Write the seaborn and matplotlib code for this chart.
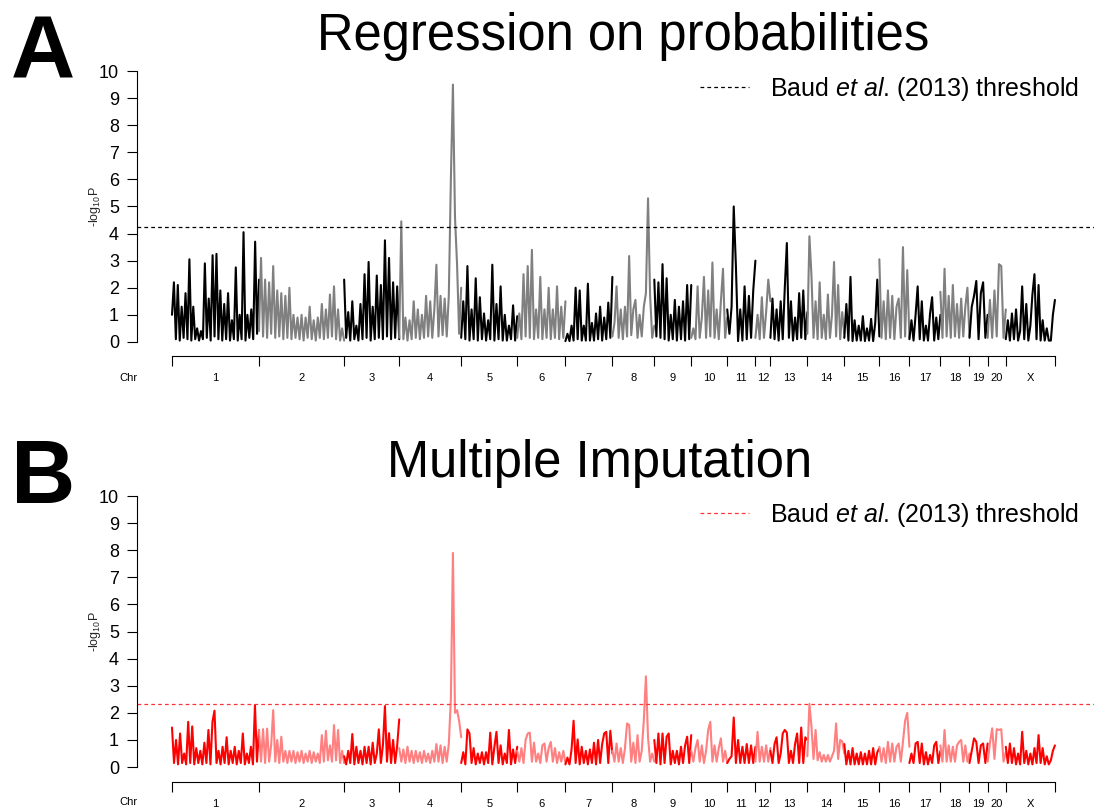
import numpy as np
import pandas as pd
import matplotlib
matplotlib.use('Agg')
import matplotlib.pyplot as plt
from matplotlib.lines import Line2D
import seaborn as sns

chroms = ['1', '2', '3', '4', '5', '6', '7', '8', '9', '10', '11', '12',
          '13', '14', '15', '16', '17', '18', '19', '20', 'X']
chrom_len = [278, 272, 176, 198, 179, 154, 150, 134, 118, 115, 90, 48,
             118, 118, 112, 96, 99, 93, 58, 58, 157]

# --- A: regression on probabilities, -log10 P along each chromosome ---
reg_1 = [1.0, 2.2, 0.1, 2.1, 0.05, 1.3, 0.15, 1.8, 0.1, 3.05, 0.05, 1.3, 0.1, 0.5, 0.05, 0.4, 0.1, 2.9, 0.15, 1.6,
         0.05, 3.2, 0.2, 3.25, 0.1, 1.9, 0.05, 1.4, 0.1, 1.8, 0.05, 0.8, 0.1, 2.75, 0.05, 1.0, 0.1, 4.05, 0.05, 1.0,
         0.15, 1.2, 0.1, 3.7, 0.3, 2.3]
reg_2 = [0.4, 3.1, 0.2, 2.3, 0.15, 2.2, 0.3, 2.8, 0.15, 1.9, 0.2, 1.8, 0.1, 1.7, 0.15, 2.0, 0.1, 1.0, 0.15, 0.9,
         0.1, 1.0, 0.05, 0.9, 0.15, 1.3, 0.1, 0.8, 0.05, 0.9, 0.15, 1.4, 0.1, 1.2, 0.15, 1.75, 0.2, 2.05, 0.1, 1.2,
         0.05, 0.5, 0.05]
reg_3 = [2.3, 0.15, 1.1, 0.05, 1.5, 0.1, 0.6, 0.05, 1.4, 0.1, 2.5, 0.15, 2.95, 0.05, 1.3, 0.1, 2.45, 0.15, 2.1, 0.1,
         3.75, 0.2, 3.1, 0.1, 2.2, 0.15, 2.05, 0.1]
reg_4 = [0.15, 4.45, 0.1, 0.9, 0.05, 0.8, 0.1, 1.5, 0.15, 1.2, 0.1, 1.0, 0.15, 1.7, 0.2, 1.5, 0.15, 1.2, 2.85, 0.2,
         1.7, 0.25, 1.6, 0.2, 1.7, 6.0, 9.5, 4.6, 2.85, 0.3, 2.0]
reg_5 = [0.15, 1.5, 0.1, 2.8, 0.05, 1.2, 0.1, 2.35, 0.05, 1.65, 0.1, 1.05, 0.05, 0.8, 0.1, 2.85, 0.05, 1.4, 0.1, 2.05,
         0.05, 1.0, 0.05, 0.6, 0.1, 1.35, 0.05, 0.95]
reg_6 = [0.15, 1.05, 0.1, 2.5, 0.2, 2.8, 0.15, 3.4, 0.1, 1.2, 0.15, 2.4, 0.1, 1.2, 0.15, 2.0, 0.1, 1.2, 0.15, 2.05,
         0.1, 1.3, 0.15, 1.5]
reg_7 = [0.03, 0.3, 0.03, 0.6, 0.05, 2.0, 0.1, 1.9, 0.05, 0.6, 0.05, 2.15, 0.05, 0.7, 0.05, 1.05, 0.1, 1.3, 0.05, 0.9,
         0.1, 1.45, 0.15, 2.4]
reg_8 = [0.2, 0.7, 2.05, 0.15, 1.2, 0.1, 1.3, 0.2, 3.17, 0.25, 1.2, 1.55, 0.15, 1.0, 0.2, 1.3, 1.8, 5.3, 1.7, 0.15,
         0.6]
reg_9 = [2.3, 0.2, 2.2, 0.15, 2.87, 0.1, 2.35, 0.05, 1.0, 0.1, 1.55, 0.05, 1.3, 0.1, 1.5, 0.05, 2.1, 0.1, 2.1]
reg_10 = [0.15, 0.5, 0.1, 2.05, 0.15, 0.9, 2.4, 0.15, 1.9, 0.2, 2.93, 0.15, 1.2, 0.1, 1.5, 2.7, 0.15, 0.9]
reg_11 = [1.2, 0.3, 1.3, 5.0, 2.8, 0.03, 1.2, 0.05, 2.05, 0.1, 1.7, 0.15, 1.9, 3.0]
reg_12 = [0.15, 1.0, 0.1, 1.65, 0.15, 1.1, 2.3, 1.5]
reg_13 = [0.15, 1.6, 0.1, 1.2, 0.05, 1.5, 0.1, 2.0, 3.65, 0.15, 1.5, 0.05, 0.9, 0.1, 1.8, 0.15, 1.9, 0.1, 1.1]
reg_14 = [0.3, 3.9, 2.45, 0.15, 1.5, 0.1, 2.2, 0.15, 1.0, 0.1, 1.75, 0.15, 1.0, 2.95, 0.2, 2.1, 0.1, 1.1, 0.3]
reg_15 = [0.15, 1.4, 0.05, 2.4, 0.03, 0.8, 0.05, 0.6, 0.05, 0.95, 0.03, 0.5, 0.05, 0.85, 0.03, 0.7, 2.3, 0.2]
reg_16 = [3.05, 0.15, 1.5, 0.1, 1.9, 0.15, 1.7, 0.1, 1.3, 1.6, 0.15, 3.5, 0.2, 2.65, 0.15]
reg_17 = [0.1, 0.8, 0.05, 1.0, 2.05, 0.1, 1.5, 0.05, 0.6, 0.05, 1.05, 1.65, 0.05, 0.9, 0.1, 1.0]
reg_18 = [1.85, 0.15, 2.7, 0.2, 1.7, 0.15, 2.1, 0.2, 1.4, 0.15, 1.6, 0.2, 1.3, 2.0, 0.2]
reg_19 = [0.15, 1.3, 1.7, 2.25, 0.1, 1.8, 2.2, 0.15, 1.0]
reg_20 = [0.15, 1.55, 0.15, 1.9, 0.2, 2.87, 2.8, 0.15, 1.2]
reg_X = [0.1, 0.8, 0.05, 1.05, 0.1, 1.2, 0.05, 0.4, 2.05, 0.1, 1.4, 0.05, 0.6, 1.75, 2.5, 0.1, 2.1, 0.05, 0.8, 0.05,
         0.5, 0.05, 0.05, 1.0, 1.55]

# --- B: multiple imputation ---
imp_1 = [1.46, 0.15, 1.0, 0.1, 1.24, 0.15, 0.5, 0.1, 1.67, 0.15, 1.5, 0.1, 0.7, 0.15, 0.6, 0.1, 0.9, 0.15, 1.37, 0.1,
         1.67, 2.08, 0.15, 0.6, 0.1, 0.75, 0.15, 1.1, 0.1, 0.6, 0.15, 0.75, 0.1, 0.6, 0.15, 1.24, 0.1, 0.5, 0.15, 0.75,
         0.1, 2.29, 0.2, 1.37]
imp_2 = [1.37, 0.2, 1.4, 0.15, 1.42, 0.2, 0.8, 2.1, 0.2, 1.0, 0.15, 1.12, 0.2, 0.6, 0.15, 0.6, 0.2, 0.6, 0.15, 0.55,
         0.2, 0.6, 0.15, 0.5, 0.2, 0.6, 0.15, 0.55, 0.2, 0.5, 0.15, 1.18, 0.2, 1.34, 0.25, 0.8, 0.2, 1.55, 0.25, 1.37,
         0.15, 0.6, 0.15]
imp_3 = [0.4, 0.1, 0.6, 0.15, 1.22, 0.1, 0.75, 0.15, 0.6, 0.1, 0.75, 0.15, 0.75, 0.1, 0.9, 0.15, 0.5, 1.39, 0.15, 0.8,
         2.25, 0.2, 1.25, 0.15, 1.0, 0.15, 0.8, 1.76]
imp_4 = [0.7, 0.2, 0.65, 0.15, 0.75, 0.2, 0.6, 0.15, 0.6, 0.2, 0.55, 0.15, 0.6, 0.2, 0.5, 0.15, 0.6, 0.2, 0.85, 0.2,
         0.8, 0.15, 0.75, 0.2, 0.85, 2.5, 7.9, 2.0, 2.1, 1.7, 1.1]
imp_5 = [0.15, 0.55, 0.1, 1.39, 1.24, 0.15, 0.7, 0.1, 0.5, 0.15, 0.55, 0.1, 0.55, 0.15, 1.27, 0.1, 0.75, 1.3, 0.15, 0.8,
         0.1, 0.5, 0.15, 1.37, 0.1, 0.65, 0.15, 0.75]
imp_6 = [0.6, 0.2, 0.7, 0.15, 1.0, 1.24, 1.27, 0.2, 0.9, 0.2, 0.5, 0.15, 0.8, 0.87, 0.2, 0.7, 0.93, 0.2, 0.7, 0.15,
         0.55, 0.2, 0.6, 0.15]
imp_7 = [0.1, 0.35, 0.1, 0.65, 1.71, 0.15, 1.02, 0.1, 0.75, 0.15, 0.6, 0.1, 0.65, 0.15, 0.9, 0.1, 1.0, 0.15, 0.85, 1.24,
         1.3, 0.15, 1.34, 0.5]
imp_8 = [0.6, 0.2, 0.87, 0.2, 0.7, 0.15, 0.7, 1.61, 1.55, 0.2, 0.9, 0.15, 1.18, 0.2, 0.6, 1.73, 3.35, 1.1, 0.2, 0.5,
         0.2]
imp_9 = [1.0, 0.15, 1.24, 0.1, 1.24, 0.15, 1.12, 1.24, 0.1, 0.6, 0.15, 0.6, 0.1, 0.75, 0.15, 0.8, 1.12, 0.15, 1.18]
imp_10 = [0.6, 0.2, 0.7, 1.0, 0.2, 0.8, 0.15, 0.6, 1.37, 1.67, 0.2, 0.8, 0.2, 0.7, 1.06, 0.2, 0.6, 0.15]
imp_11 = [0.15, 0.3, 0.4, 1.83, 0.15, 1.0, 0.15, 0.75, 0.15, 0.85, 0.15, 0.8, 0.15, 0.75]
imp_12 = [0.2, 1.3, 0.2, 0.75, 0.2, 0.8, 0.2, 0.7]
imp_13 = [0.6, 0.15, 0.85, 1.1, 0.15, 0.5, 1.24, 1.37, 1.27, 0.15, 0.6, 0.15, 0.85, 1.24, 0.15, 1.46, 0.15, 1.1, 1.0]
imp_14 = [0.4, 2.33, 1.49, 0.3, 1.37, 0.25, 0.55, 0.2, 0.45, 0.2, 0.45, 0.2, 0.4, 0.6, 1.61, 0.3, 1.0, 0.95, 0.5]
imp_15 = [0.85, 0.1, 0.6, 0.1, 0.7, 0.1, 0.5, 0.1, 0.55, 0.1, 0.5, 0.1, 0.6, 0.1, 0.7, 0.1, 0.55, 0.7]
imp_16 = [0.75, 0.2, 0.7, 0.15, 0.93, 0.2, 0.87, 0.2, 0.75, 0.87, 0.2, 0.93, 1.71, 2.0, 0.75]
imp_17 = [0.15, 0.5, 0.15, 0.87, 0.93, 0.15, 0.87, 0.1, 0.55, 0.1, 0.45, 0.15, 0.8, 0.93, 0.15, 0.6]
imp_18 = [0.8, 0.2, 1.37, 0.2, 0.8, 0.2, 0.75, 0.2, 0.8, 0.93, 1.0, 0.2, 0.8, 0.2, 0.5]
imp_19 = [0.15, 0.6, 1.06, 0.93, 0.15, 0.8, 0.87, 0.15, 0.87]
imp_20 = [0.2, 0.87, 1.43, 0.3, 1.4, 1.37, 1.4, 0.2, 0.55]
imp_X = [0.75, 0.15, 0.87, 0.15, 0.7, 0.1, 0.5, 0.1, 1.3, 0.15, 0.6, 0.1, 0.5, 0.1, 0.7, 0.15, 1.18, 0.15, 0.7, 0.1,
         0.4, 0.1, 0.25, 0.6, 0.8]

reg_vals = [reg_1, reg_2, reg_3, reg_4, reg_5, reg_6, reg_7, reg_8, reg_9, reg_10, reg_11, reg_12,
            reg_13, reg_14, reg_15, reg_16, reg_17, reg_18, reg_19, reg_20, reg_X]
imp_vals = [imp_1, imp_2, imp_3, imp_4, imp_5, imp_6, imp_7, imp_8, imp_9, imp_10, imp_11, imp_12,
            imp_13, imp_14, imp_15, imp_16, imp_17, imp_18, imp_19, imp_20, imp_X]

thr_reg = 4.23
thr_imp = 2.33

sns.set_style('ticks', {'axes.edgecolor': 'black', 'xtick.color': 'black',
                        'ytick.color': 'black', 'text.color': 'black'})
plt.rcParams['font.family'] = ['Liberation Sans', 'DejaVu Sans']
plt.rcParams['mathtext.fontset'] = 'custom'
plt.rcParams['mathtext.rm'] = 'Liberation Sans'
plt.rcParams['mathtext.it'] = 'Liberation Sans:italic'

W, H = 1094, 810
starts = np.concatenate([[0], np.cumsum(chrom_len)[:-1]])
bounds = np.concatenate([[0], np.cumsum(chrom_len)])
centers = starts + np.array(chrom_len) / 2
total = bounds[-1]
dash = (0, (3, 2.5))


def panel(ax, values, colors, thr, thr_color, ymin, legend_y):
    parts = []
    for k, vals in enumerate(values):
        pos = starts[k] + np.linspace(0, chrom_len[k], len(vals))
        parts.append(pd.DataFrame({'chr': chroms[k], 'pos': pos, 'logp': vals}))
    df = pd.concat(parts, ignore_index=True)
    pal = {c: colors[k % 2] for k, c in enumerate(chroms)}
    sns.lineplot(data=df, x='pos', y='logp', hue='chr', palette=pal, estimator=None,
                 sort=False, lw=1.5, legend=False, ax=ax)
    ax.axhline(thr, color=thr_color, lw=0.9, ls=dash)

    ax.set_xlim(-111.8, 2945.8)
    ax.set_ylim(ymin, 10)
    for s in ['top', 'right']:
        ax.spines[s].set_visible(False)
    ax.spines['left'].set_bounds(0, 10)
    ax.spines['bottom'].set_bounds(0, total)
    ax.spines['left'].set_linewidth(0.8)
    ax.spines['bottom'].set_linewidth(0.8)

    ax.set_yticks(range(11))
    ax.tick_params(axis='y', length=7, width=0.8, pad=6, labelsize=13)
    ax.set_xticks(centers, labels=chroms)
    ax.set_xticks(bounds, minor=True)
    ax.tick_params(axis='x', which='major', length=0, pad=12, labelsize=8)
    ax.tick_params(axis='x', which='minor', length=7.5, width=0.8)
    ax.set_xlabel('')
    ax.set_ylabel('-log$_{10}$P', fontsize=9)
    ax.yaxis.set_label_coords(-0.036, (5 - ymin) / (10 - ymin))

    h = Line2D([], [], color=thr_color, lw=0.9, ls=dash)
    fig.legend(handles=[h], labels=['Baud $\\mathit{et\\ al}$. (2013) threshold'],
               loc='center left', bbox_to_anchor=(700 / W, 1 - legend_y / H),
               bbox_transform=fig.transFigure, frameon=False, fontsize=18,
               handlelength=1.95, handletextpad=0.85, borderpad=0, borderaxespad=0)


fig = plt.figure(figsize=(W / 100, H / 100), dpi=100)
ax_a = fig.add_axes([137 / W, 1 - 356 / H, (W - 137) / W, 285 / H])
ax_b = fig.add_axes([137 / W, 1 - 782 / H, (W - 137) / W, 286 / H])

panel(ax_a, reg_vals, ['#000000', '#808080'], thr_reg, 'black', -0.52, 89)
panel(ax_b, imp_vals, ['#FF0000', '#FF8080'], thr_imp, '#FF3333', -0.55, 515)

fig.text(623 / W, 1 - 50 / H, 'Regression on probabilities', ha='center', va='baseline', fontsize=36.5)
fig.text(600 / W, 1 - 477 / H, 'Multiple Imputation', ha='center', va='baseline', fontsize=36.5)
fig.text(43 / W, 1 - 78 / H, 'A', ha='center', va='baseline', fontsize=64, fontweight='bold')
fig.text(43 / W, 1 - 503 / H, 'B', ha='center', va='baseline', fontsize=64, fontweight='bold')
fig.text(128 / W, 1 - 378 / H, 'Chr', ha='center', va='center', fontsize=8)
fig.text(128 / W, 1 - 802 / H, 'Chr', ha='center', va='center', fontsize=8)

fig.savefig('out.png', dpi=100)
